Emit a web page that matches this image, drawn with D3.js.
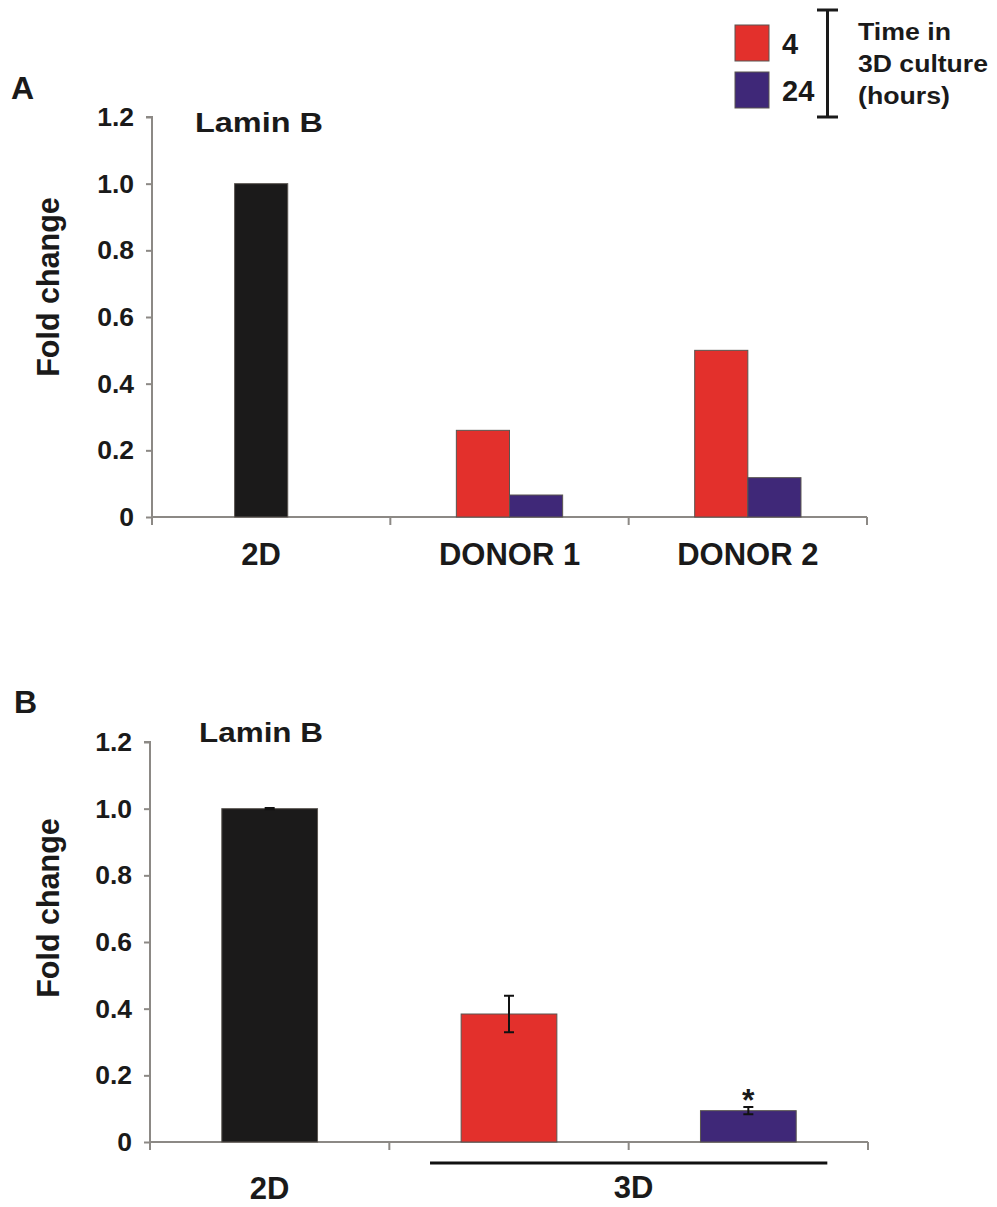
<!DOCTYPE html>
<html>
<head>
<meta charset="utf-8">
<script src="https://cdn.jsdelivr.net/npm/d3@7"></script>
<style>
  body { margin: 0; background: #fff; }
  svg text { font-family: "Liberation Sans", Arial, sans-serif; font-weight: bold; fill: #1a1a1a; }
</style>
</head>
<body>
<div id="chart"></div>
<script>
// panel A - single donors
var catsA = ['2D', 'DONOR 1', 'DONOR 2'];
var ctrlA = [1.0, null, null];
var h4A = [null, 0.26, 0.50];
var h24A = [null, 0.066, 0.118];

// panel B - mean of donors
var catsB = ['2D', '4', '24'];
var valsB = [1.0, 0.384, 0.094];
var errB = [0.002, 0.055, 0.011];
var starsB = ['', '', '*'];
var groupLabelsB = ['2D', '3D'];

var yTicks = [0, 0.2, 0.4, 0.6, 0.8, 1.0, 1.2];
var legendKeys = ['4', '24'];
var legendTitle = ['Time in', '3D culture', '(hours)'];
var panelTitle = 'Lamin B';
var yTitle = 'Fold change';

var RED = '#e3302c', PURPLE = '#3f2878', BLACK = '#1b1a1a', AXIS = '#8c8985', EDGE = '#5a5550';

var W = 997, H = 1207;
var svg = d3.select('#chart').append('svg').attr('width', W).attr('height', H);

function fmt(d) { return d === 0 ? '0' : d3.format('.1f')(d); }

function drawAxes(g, x, y, x0, x1) {
  // y axis
  var ya = g.append('g').attr('transform', 'translate(' + x0 + ',0)')
    .call(d3.axisLeft(y).tickValues(yTicks).tickFormat(fmt).tickSize(6).tickPadding(12));
  ya.select('.domain').attr('stroke', AXIS).attr('stroke-width', 2).attr('d', 'M-6,' + y(1.2) + 'H0V' + y(0));
  ya.selectAll('.tick line').attr('stroke', AXIS).attr('stroke-width', 2);
  ya.selectAll('.tick text').attr('font-size', 26.5).attr('fill', '#1a1a1a')
    .style('font-family', '"Liberation Sans", Arial, sans-serif').style('font-weight', 'bold');

  // x axis line with ticks at category boundaries
  var bounds = x.domain().map(function(d) { return x(d); }).concat([x.range()[1]]);
  g.append('line').attr('x1', x0).attr('x2', x1).attr('y1', y(0)).attr('y2', y(0))
    .attr('stroke', AXIS).attr('stroke-width', 2);
  g.selectAll('.xt').data(bounds).enter().append('line')
    .attr('x1', function(d) { return d; }).attr('x2', function(d) { return d; })
    .attr('y1', y(0)).attr('y2', y(0) + 8)
    .attr('stroke', AXIS).attr('stroke-width', 2);
}

function yLabel(cy) {
  svg.append('text').attr('transform', 'translate(59,' + cy + ') rotate(-90)')
    .attr('text-anchor', 'middle').attr('font-size', 30.5).text(yTitle);
}

// ---------- panel A ----------
var xA = d3.scaleBand().domain(catsA).range([152, 867]);
var yA = d3.scaleLinear().domain([0, 1.2]).range([517, 117]);
var gA = svg.append('g');
var bwA = xA.bandwidth() * 0.223;

drawAxes(gA, xA, yA, 152, 867);

// control bar sits a bit left of the band centre
gA.selectAll('.ctrl').data(catsA.filter(function(d, i) { return ctrlA[i] != null; }))
  .enter().append('rect')
  .attr('x', function(d) { return xA(d) + xA.bandwidth() / 2 - bwA / 2 - 10; })
  .attr('y', function(d) { return yA(ctrlA[catsA.indexOf(d)]); })
  .attr('width', bwA)
  .attr('height', function(d) { return yA(0) - yA(ctrlA[catsA.indexOf(d)]); })
  .attr('fill', BLACK).attr('stroke', EDGE).attr('stroke-width', 1);

[[h4A, RED, -1], [h24A, PURPLE, 0]].forEach(function(s) {
  gA.selectAll(null).data(catsA.filter(function(d, i) { return s[0][i] != null; }))
    .enter().append('rect')
    .attr('x', function(d) { return xA(d) + xA.bandwidth() / 2 + s[2] * bwA; })
    .attr('y', function(d) { return yA(s[0][catsA.indexOf(d)]); })
    .attr('width', bwA)
    .attr('height', function(d) { return yA(0) - yA(s[0][catsA.indexOf(d)]); })
    .attr('fill', s[1]).attr('stroke', EDGE).attr('stroke-width', 1);
});

gA.selectAll('.catA').data(catsA).enter().append('text')
  .attr('x', function(d, i) { return xA(d) + xA.bandwidth() / 2 + (i === 0 ? -10 : 0); })
  .attr('y', 565).attr('text-anchor', 'middle').attr('font-size', 31)
  .text(function(d) { return d; });

svg.append('text').attr('x', 11).attr('y', 99).attr('font-size', 32).text('A');
svg.append('text').attr('x', 195).attr('y', 132).attr('font-size', 27)
  .attr('textLength', 128).attr('lengthAdjust', 'spacingAndGlyphs').text(panelTitle);
yLabel(287);

// ---------- legend ----------
var leg = svg.append('g');
var legColors = [RED, PURPLE];
var legY = d3.scalePoint().domain(legendKeys).range([43, 90]);
leg.selectAll('rect').data(legendKeys).enter().append('rect')
  .attr('x', 735).attr('y', function(d) { return legY(d) - 18; })
  .attr('width', 34).attr('height', 36)
  .attr('fill', function(d, i) { return legColors[i]; })
  .attr('stroke', EDGE).attr('stroke-width', 1);
leg.selectAll('text.k').data(legendKeys).enter().append('text')
  .attr('x', 782).attr('y', function(d) { return legY(d) + 11; })
  .attr('font-size', 29).text(function(d) { return d; });
leg.append('path').attr('d', 'M817,10H838M827.5,10V117M817,117H838')
  .attr('stroke', '#1a1a1a').attr('stroke-width', 3).attr('fill', 'none');
var lenT = [93, 130, 92];
leg.selectAll('text.t').data(legendTitle).enter().append('text')
  .attr('x', 858).attr('y', function(d, i) { return 40 + i * 32; })
  .attr('font-size', 23)
  .attr('textLength', function(d, i) { return lenT[i]; })
  .attr('lengthAdjust', 'spacingAndGlyphs')
  .text(function(d) { return d; });

// ---------- panel B ----------
var xB = d3.scaleBand().domain(catsB).range([150, 868]);
var yB = d3.scaleLinear().domain([0, 1.2]).range([1142, 742]);
var gB = svg.append('g');
var bwB = xB.bandwidth() * 0.4;
var colB = [BLACK, RED, PURPLE];

drawAxes(gB, xB, yB, 150, 868);

gB.selectAll('.barB').data(catsB).enter().append('rect')
  .attr('x', function(d) { return xB(d) + xB.bandwidth() / 2 - bwB / 2; })
  .attr('y', function(d, i) { return yB(valsB[i]); })
  .attr('width', bwB)
  .attr('height', function(d, i) { return yB(0) - yB(valsB[i]); })
  .attr('fill', function(d, i) { return colB[i]; })
  .attr('stroke', EDGE).attr('stroke-width', 1);

// error bars
var eb = gB.selectAll('.err').data(catsB).enter().append('g')
  .attr('transform', function(d) { return 'translate(' + (xB(d) + xB.bandwidth() / 2) + ',0)'; });
eb.append('path')
  .attr('d', function(d, i) {
    var t = yB(valsB[i] + errB[i]), b = yB(valsB[i] - errB[i]);
    return 'M-5,' + t + 'H5M0,' + t + 'V' + b + 'M-5,' + b + 'H5';
  })
  .attr('stroke', '#111').attr('stroke-width', 2).attr('fill', 'none');
eb.append('text').attr('text-anchor', 'middle').attr('font-size', 32)
  .attr('y', function(d, i) { return yB(valsB[i] + errB[i]) + 4; })
  .text(function(d, i) { return starsB[i]; });

// 3D grouping line
var g3 = [xB(catsB[1]) + xB.bandwidth() * 0.17, xB(catsB[2]) + xB.bandwidth() * 0.83];
gB.append('line').attr('x1', g3[0]).attr('x2', g3[1]).attr('y1', 1163).attr('y2', 1163)
  .attr('stroke', '#111').attr('stroke-width', 3);

gB.append('text').attr('x', xB(catsB[0]) + xB.bandwidth() / 2).attr('y', 1199)
  .attr('text-anchor', 'middle').attr('font-size', 31).text(groupLabelsB[0]);
gB.append('text').attr('x', (g3[0] + g3[1]) / 2 + 5).attr('y', 1198)
  .attr('text-anchor', 'middle').attr('font-size', 31).text(groupLabelsB[1]);

svg.append('text').attr('x', 14).attr('y', 713).attr('font-size', 32).text('B');
svg.append('text').attr('x', 199).attr('y', 742).attr('font-size', 27)
  .attr('textLength', 124).attr('lengthAdjust', 'spacingAndGlyphs').text(panelTitle);
yLabel(908);
</script>
</body>
</html>
